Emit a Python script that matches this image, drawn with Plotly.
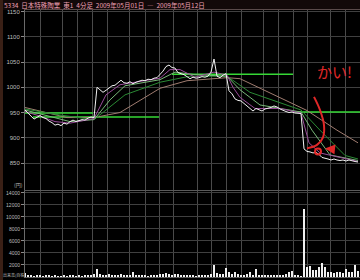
import plotly.graph_objects as go

# ---------------- data ----------------
bars = list(range(0, 336, 3))  # 4-minute bar index (3-bar sampling)
price = [955, 948, 943, 937, 941, 944, 940, 938, 933, 930, 925, 927, 924, 929, 927, 932,
         935, 932, 934, 936, 935, 939, 941, 940,
         1000, 995, 990, 994, 998, 1003, 1004, 1010, 1014, 1009, 1008, 1011, 1007, 1010,
         1012, 1014, 1013, 1016, 1015, 1018, 1019,
         1025, 1032, 1041, 1044, 1039, 1038, 1029, 1027, 1025, 1021, 1017, 1020, 1018,
         1019, 1021, 1020, 1022, 1030, 1056, 1022, 1019, 1024, 1027,
         993, 987, 977, 974, 973, 968, 963, 957, 953, 958, 955, 953, 957, 958, 960, 963,
         961, 957, 954, 952, 950, 951, 949, 948, 948,
         878, 873, 872, 870, 871, 867, 861, 860, 858, 856, 858, 856, 855, 856, 854, 856,
         854, 853, 852]
volume = [700, 350, 300, 250, 400, 300, 250, 300, 350, 250, 300, 200, 250, 300, 250, 350,
          300, 250, 300, 250, 400, 300, 350, 450,
          1300, 500, 400, 350, 450, 300, 400, 350, 500, 400, 300, 350, 800, 400, 300, 350,
          300, 250, 400, 300, 350,
          500, 450, 600, 500, 400, 550, 450, 350, 400, 300, 350, 300, 250, 300, 350, 300,
          400, 500, 2000, 600, 450, 500, 1500,
          900, 500, 800, 500, 400, 350, 500, 800, 400, 1300, 400, 350, 300, 400, 350, 300,
          350, 400, 350, 500, 800, 1000, 400, 300, 250,
          11300, 1700, 1800, 1200, 1100, 1600, 2300, 1700, 900, 800, 700, 800, 900, 700,
          1300, 800, 900, 2000, 1000]

# moving-average lines (bar index, price)
ma1_x = [0, 15, 30, 45, 69, 75, 81, 95, 135, 145, 155, 170, 189, 202, 208, 215, 230, 255, 276, 284, 295, 333]
ma1_y = [952, 943, 932, 929, 938, 960, 985, 1005, 1018, 1035, 1035, 1020, 1030, 1024, 1000, 980, 958, 958, 949, 890, 870, 853]
ma2_x = [0, 25, 45, 69, 85, 100, 135, 150, 170, 202, 215, 235, 276, 287, 305, 333]
ma2_y = [955, 943, 932, 936, 975, 1003, 1015, 1030, 1025, 1022, 995, 965, 951, 915, 866, 855]
ma3_x = [0, 35, 69, 100, 135, 165, 202, 225, 276, 295, 320, 333]
ma3_y = [957, 945, 936, 985, 1010, 1022, 1022, 990, 955, 915, 865, 858]
ma4_x = [0, 42, 69, 95, 135, 162, 202, 215, 282, 312, 333]
ma4_y = [960, 940, 940, 950, 998, 1013, 1019, 1017, 954, 915, 890]

# user-drawn horizontal level lines
level_price = [949, 941, 1026, 951]
level_from = [0, 8, 147, 270]
level_to = [68, 134, 268, 335]

price_ticks = [850, 900, 950, 1000, 1050, 1100, 1150]
vol_ticks = [2000, 4000, 6000, 8000, 10000, 12000, 14000]
vol_labels = ["2000", "4000", "6000", "8000", "10000", "12000", "14000"]
hour_marks = [15, 37, 52, 67, 82, 104, 120, 134, 148, 172, 186, 201, 216, 238, 253, 268, 282, 305, 320]

title = "5334  日本特殊陶業  東1  4分足  2009年05月01日  ―  2009年05月12日"

# ---------------- figure ----------------
fig = go.Figure()

for lx, lp, lt in zip(level_from, level_price, level_to):
    fig.add_trace(go.Scatter(x=[lx, lt], y=[lp, lp], mode="lines",
                             line=dict(color="#36d836", width=1.5), hoverinfo="skip"))

fig.add_trace(go.Scatter(x=ma4_x, y=ma4_y, mode="lines", line=dict(color="#a07c70", width=1)))
fig.add_trace(go.Scatter(x=ma3_x, y=ma3_y, mode="lines", line=dict(color="#2a8a34", width=1)))
fig.add_trace(go.Scatter(x=ma2_x, y=ma2_y, mode="lines", line=dict(color="#78b878", width=1)))
fig.add_trace(go.Scatter(x=ma1_x, y=ma1_y, mode="lines", line=dict(color="#9a4c9a", width=1)))

fig.add_trace(go.Scatter(x=bars, y=price, mode="lines", line=dict(color="#f2f2f2", width=1)))

fig.add_trace(go.Bar(x=bars, y=volume, xaxis="x2", yaxis="y2",
                     marker=dict(color="#f0f0f0", line=dict(width=0)), width=1.6))

# red hand-drawn annotation
fig.add_trace(go.Scatter(x=[289, 295, 299, 298, 292, 282], y=[981, 955, 925, 901, 886, 879],
                         mode="lines", line=dict(color="#e02828", width=2, shape="spline")))
fig.add_trace(go.Scatter(x=[293], y=[873], mode="markers",
                         marker=dict(symbol="circle-open", size=6, color="#e02828",
                                     line=dict(width=2, color="#e02828"))))

axis_font = dict(family="Liberation Sans", size=6, color="#bdbdbd")

fig.update_layout(
    width=360, height=280,
    margin=dict(l=25, r=0, t=0, b=0),
    paper_bgcolor="#000000", plot_bgcolor="#000000",
    showlegend=False, bargap=0,
    xaxis=dict(domain=[0, 1], range=[0, 335], tickvals=hour_marks, showticklabels=False,
               showgrid=True, gridcolor="#4a4a4a", gridwidth=1, zeroline=False,
               showline=True, mirror=True, linecolor="#5a4a4a", ticks="", anchor="y"),
    yaxis=dict(domain=[0.3214, 0.9643], range=[796.6, 1153], tickvals=price_ticks,
               showgrid=True, gridcolor="#404040", zeroline=False, showline=True,
               linecolor="#6a6a6a", ticks="outside", ticklen=3, tickcolor="#8a8a8a",
               tickfont=axis_font, anchor="x"),
    xaxis2=dict(domain=[0, 1], range=[0, 335], tickvals=hour_marks, showticklabels=False,
                showgrid=True, gridcolor="#4a4a4a", zeroline=False, showline=True, mirror=True,
                linecolor="#5a5a5a", ticks="", anchor="y2"),
    yaxis2=dict(domain=[0.0107, 0.3179], range=[0, 14333], tickvals=vol_ticks,
                ticktext=vol_labels,
                showgrid=True, gridcolor="#404040", zeroline=False, showline=True,
                linecolor="#6a6a6a", ticks="outside", ticklen=3, tickcolor="#8a8a8a",
                tickfont=dict(family="Liberation Sans", size=5, color="#bdbdbd"), anchor="x2"),
    shapes=[
        dict(type="rect", xref="paper", yref="paper", x0=-25 / 335, x1=1, y0=0.9643, y1=1,
             fillcolor="#120909", line=dict(width=0), layer="below"),
        dict(type="rect", xref="paper", yref="paper", x0=-25 / 335, x1=-22 / 335, y0=0, y1=1,
             fillcolor="#3a2016", line=dict(width=0), layer="below"),
    ],
    annotations=[
        dict(text=title, xref="paper", yref="paper", x=-23 / 335, y=0.982, xanchor="left",
             yanchor="middle", showarrow=False,
             font=dict(family="Noto Sans CJK JP", size=6.5, color="#eea0b4")),
        dict(text="(円)", xref="paper", yref="paper", x=-13 / 335, y=0.338, yanchor="middle",
             showarrow=False,
             font=dict(family="Noto Sans CJK JP", size=5, color="#bdbdbd")),
        dict(text="出来高(百株)", xref="paper", yref="paper", x=-24 / 335, y=0.018,
             xanchor="left", yanchor="middle", showarrow=False,
             font=dict(family="Noto Sans CJK JP", size=4, color="#bdbdbd")),
        dict(text="かい!", xref="x", yref="y", x=309, y=1031, showarrow=False,
             font=dict(family="Noto Sans CJK JP", size=15, color="#e02828")),
        dict(text="", xref="x", yref="y", x=300, y=879, ax=10, ay=1, axref="pixel",
             showarrow=True, arrowhead=2, arrowsize=1, arrowwidth=2, arrowcolor="#e02828"),
    ],
)

fig.write_html("out.html")
